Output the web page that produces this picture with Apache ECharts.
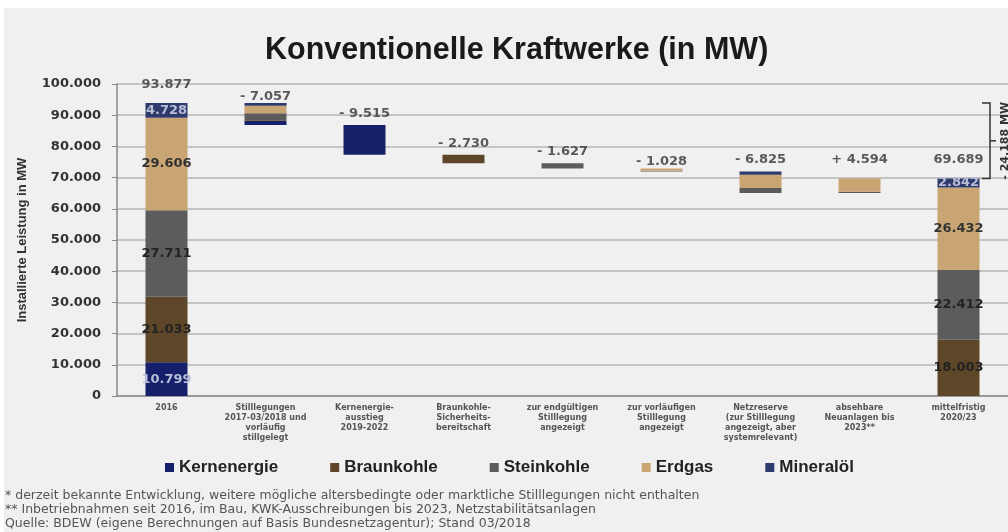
<!DOCTYPE html>
<html>
<head>
<meta charset="utf-8">
<script src="https://cdn.jsdelivr.net/npm/echarts@6/dist/echarts.min.js"></script>
<style>
  html, body { margin: 0; padding: 0; background: #fff; }
  #chart { width: 1008px; height: 532px; }
</style>
</head>
<body>
<div id="chart"></div>
<script>
const categories = [
  '2016',
  'Stilllegungen\n2017-03/2018 und\nvorläufig\nstillgelegt',
  'Kernenergie-\nausstieg\n2019-2022',
  'Braunkohle-\nSicherheits-\nbereitschaft',
  'zur endgültigen\nStilllegung\nangezeigt',
  'zur vorläufigen\nStilllegung\nangezeigt',
  'Netzreserve\n(zur Stilllegung\nangezeigt, aber\nsystemrelevant)',
  'absehbare\nNeuanlagen bis\n2023**',
  'mittelfristig\n2020/23'
];
// 0 = total bar, -1 = decrease, +1 = increase
const stepSign = [0, -1, -1, -1, -1, -1, -1, 1, 0];
const kernenergie = [10799, 1284, 9515, 0, 0, 0, 0, 0, 0];
const braunkohle  = [21033, 300, 0, 2730, 0, 0, 0, 0, 18003];
const steinkohle  = [27711, 2187, 0, 0, 1627, 300, 1585, 400, 22412];
const erdgas      = [29606, 2400, 0, 0, 0, 728, 4240, 4194, 26432];
const mineraloel  = [4728, 886, 0, 0, 0, 0, 1000, 0, 2842];
const yTicks = [0, 10000, 20000, 30000, 40000, 50000, 60000, 70000, 80000, 90000, 100000];
const footnotes = [
  '* derzeit bekannte Entwicklung, weitere mögliche altersbedingte oder marktliche Stilllegungen nicht enthalten',
  '** Inbetriebnahmen seit 2016, im Bau, KWK-Ausschreibungen bis 2023, Netzstabilitätsanlagen',
  'Quelle: BDEW (eigene Berechnungen auf Basis Bundesnetzagentur); Stand 03/2018'
];

const fuels = [
  { name: 'Kernenergie', data: kernenergie, color: '#16206a', label: '#b8bdd6' },
  { name: 'Braunkohle', data: braunkohle, color: '#5e4628', label: '#222' },
  { name: 'Steinkohle', data: steinkohle, color: '#5c5c5c', label: '#222' },
  { name: 'Erdgas', data: erdgas, color: '#c9a573', label: '#333' },
  { name: 'Mineralöl', data: mineraloel, color: '#2f3a6c', label: '#b8bdd6' }
];

const fmt = v => String(v).replace(/\B(?=(\d{3})+(?!\d))/g, '.');

// waterfall bases and tops
const sums = categories.map((_, i) => fuels.reduce((s, f) => s + f.data[i], 0));
const base = [], tops = [];
let running = 0;
sums.forEach((s, i) => {
  if (stepSign[i] === 0) { base.push(0); running = s; tops.push(s); }
  else if (stepSign[i] < 0) { running -= s; base.push(running); tops.push(running + s); }
  else { base.push(running); running += s; tops.push(running); }
});
const topLabels = sums.map((s, i) => stepSign[i] === 0 ? fmt(s) : (stepSign[i] < 0 ? '- ' : '+ ') + fmt(s));
const labelOffsets = [[0, -7], [0, 5], [0, 0], [0, 0], [0, 0], [0, 5], [0, 0], [0, -7], [0, -7]];

const chart = echarts.init(document.getElementById('chart'));
const boldNum = { fontFamily: 'DejaVu Sans', fontWeight: 'bold', fontSize: 13 };

const series = [{
  name: 'base', type: 'bar', stack: 'w', barWidth: 42, silent: true,
  itemStyle: { color: 'transparent' }, data: base
}].concat(fuels.map(f => ({
  name: f.name, type: 'bar', stack: 'w', barWidth: 42,
  itemStyle: { color: f.color },
  label: { show: false },
  data: f.data.map((v, i) => ({
    value: v,
    label: { show: stepSign[i] === 0 && v > 0, position: 'inside', formatter: p => fmt(p.value), color: f.label, ...boldNum }
  }))
}))).concat([{
  name: 'labels', type: 'scatter', symbolSize: 0, silent: true,
  data: tops.map((t, i) => ({
    value: t,
    label: { show: true, position: 'top', distance: 5, offset: labelOffsets[i], formatter: topLabels[i], color: '#333', ...boldNum }
  }))
}]);

chart.setOption({
  backgroundColor: '#f0f0f0',
  animation: false,
  title: {
    text: 'Konventionelle Kraftwerke (in MW)', left: 260, top: 30,
    textStyle: { fontFamily: 'Liberation Sans', fontWeight: 'bold', fontSize: 30.5, color: '#1a1a1a' }
  },
  legend: {
    data: fuels.map(f => f.name), left: 160, top: 454, icon: 'rect', itemWidth: 9, itemHeight: 9, itemGap: 52,
    textStyle: { fontFamily: 'Liberation Sans', fontWeight: 'bold', fontSize: 17, color: '#222' }
  },
  grid: { left: 117, right: 0, top: 84, bottom: 136 },
  xAxis: {
    type: 'category', data: categories,
    axisLine: { lineStyle: { color: '#8a8a8a', width: 1.5 } },
    axisTick: { show: false },
    axisLabel: { interval: 0, margin: 7, fontFamily: 'DejaVu Sans', fontWeight: 'bold', fontSize: 8, lineHeight: 10, color: '#555' }
  },
  yAxis: {
    type: 'value', min: 0, max: yTicks[yTicks.length - 1], interval: yTicks[1] - yTicks[0],
    name: 'Installierte Leistung in MW', nameLocation: 'middle', nameGap: 88,
    nameTextStyle: { fontFamily: 'Liberation Sans', fontWeight: 'bold', fontSize: 13, color: '#333' },
    axisLine: { show: true, lineStyle: { color: '#8a8a8a', width: 1.5 } },
    axisTick: { show: true, length: 5, lineStyle: { color: '#8a8a8a' } },
    axisLabel: { formatter: v => fmt(v), color: '#333', margin: 16, ...boldNum },
    splitLine: { lineStyle: { color: '#c4c4c4', width: 2 } }
  },
  series: series
});

// bracket showing the total reduction, plus frame and footnotes
const yTop = chart.convertToPixel({ yAxisIndex: 0 }, tops[0]);
const yBot = chart.convertToPixel({ yAxisIndex: 0 }, tops[tops.length - 1]);
const bx = 990;
const yMid = (yTop + yBot) / 2;
chart.setOption({
  graphic: [
    { type: 'rect', shape: { x: 0, y: 0, width: 1008, height: 8 }, style: { fill: '#fff' }, silent: true },
    { type: 'rect', shape: { x: 0, y: 0, width: 4, height: 532 }, style: { fill: '#fff' }, silent: true },
    { type: 'polyline', shape: { points: [[bx - 8, yTop], [bx, yTop], [bx, yBot], [bx - 8, yBot]] }, style: { stroke: '#333', lineWidth: 1.5, fill: null } },
    { type: 'line', shape: { x1: bx, y1: yMid, x2: bx + 6, y2: yMid }, style: { stroke: '#333', lineWidth: 1.5 } },
    { type: 'text', x: 1005, y: yMid, rotation: Math.PI / 2,
      style: { text: '- ' + fmt(tops[0] - tops[tops.length - 1]) + ' MW', align: 'center', verticalAlign: 'middle',
        font: 'bold 11px DejaVu Sans', fill: '#333' } }
  ].concat(footnotes.map((t, i) => ({
    type: 'text', x: 5, y: 496 + i * 14,
    style: { text: t, verticalAlign: 'middle', font: '12.5px DejaVu Sans', fill: '#555' }
  })))
});
</script>
</body>
</html>
